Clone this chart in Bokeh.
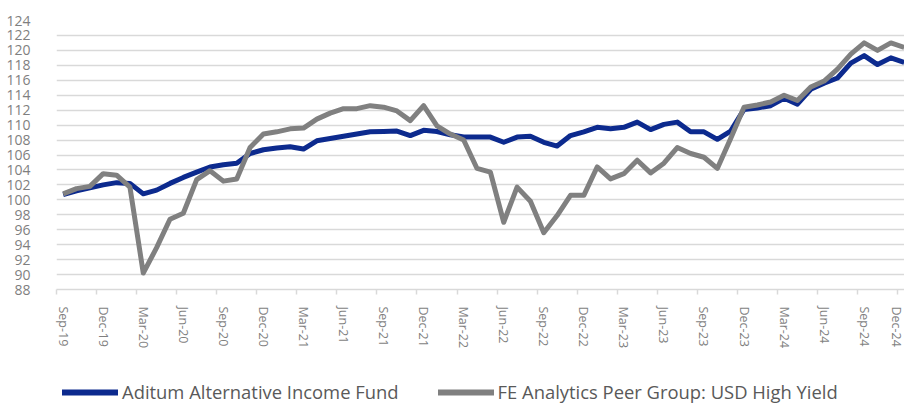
from bokeh.plotting import figure
from bokeh.models import FixedTicker, Legend, LegendItem, Range1d
from bokeh.layouts import column
from bokeh.embed import file_html
from bokeh.resources import INLINE

# ---- data (monthly index, Sep-19 .. Dec-24) ----
tick_labels = ["Sep-19", "Dec-19", "Mar-20", "Jun-20", "Sep-20", "Dec-20", "Mar-21",
               "Jun-21", "Sep-21", "Dec-21", "Mar-22", "Jun-22", "Sep-22", "Dec-22",
               "Mar-23", "Jun-23", "Sep-23", "Dec-23", "Mar-24", "Jun-24", "Sep-24", "Dec-24"]

fund = [100.7, 101.2, 101.6, 102.0, 102.3, 102.2, 100.8, 101.3, 102.2, 103.0,
        103.7, 104.4, 104.7, 104.9, 106.2, 106.7, 106.95, 107.1, 106.8, 107.9,
        108.2, 108.5, 108.8, 109.1, 109.15, 109.2, 108.6, 109.3, 109.15, 108.7,
        108.4, 108.4, 108.4, 107.7, 108.4, 108.5, 107.7, 107.2, 108.6, 109.1,
        109.7, 109.5, 109.7, 110.4, 109.4, 110.1, 110.4, 109.1, 109.1, 108.1,
        109.2, 112.1, 112.3, 112.6, 113.6, 112.8, 114.8, 115.6, 116.3, 118.3,
        119.3, 118.1, 119.0, 118.4]

peer = [100.8, 101.5, 101.8, 103.5, 103.3, 101.7, 90.2, 93.6, 97.4, 98.2,
        102.7, 103.9, 102.5, 102.8, 107.0, 108.8, 109.1, 109.5, 109.6, 110.8,
        111.6, 112.2, 112.2, 112.6, 112.4, 111.9, 110.6, 112.6, 109.9, 108.8,
        108.0, 104.2, 103.7, 97.0, 101.7, 99.8, 95.6, 97.9, 100.6, 100.6,
        104.4, 102.8, 103.5, 105.3, 103.6, 104.9, 107.0, 106.2, 105.7, 104.2,
        108.2, 112.4, 112.7, 113.1, 114.0, 113.3, 115.1, 115.9, 117.5, 119.5,
        121.0, 120.0, 121.0, 120.4]

series_names = ["Aditum Alternative Income Fund", "FE Analytics Peer Group: USD High Yield"]
y_ticks = list(range(88, 125, 2))

months = list(range(len(fund)))
label_pos = [3 * k for k in range(len(tick_labels))]
tick_mark_pos = [3 * k - 0.5 for k in range(len(tick_labels))]

GRID = "#d9d9d9"
LABEL = "#7f7f7f"
FONT = "Open Sans"
BLUE = "#0c2a8e"
GREY = "#808080"

p = figure(frame_width=848, frame_height=269, output_backend="svg", toolbar_location=None,
           x_range=Range1d(-0.5, -0.5 + 848 / 13.35), y_range=Range1d(88, 124),
           min_border_left=56, min_border_right=0, min_border_top=20, min_border_bottom=83)
p.outline_line_color = None
p.background_fill_color = "white"
p.border_fill_color = "white"
p.xgrid.visible = False

# y axis
p.yaxis.ticker = FixedTicker(ticks=y_ticks)
p.yaxis.axis_line_color = None
p.yaxis.major_tick_line_color = None
p.yaxis.minor_tick_line_color = None
p.yaxis.major_label_standoff = 20
p.yaxis.major_label_text_font = FONT
p.yaxis.major_label_text_font_size = "14px"
p.yaxis.major_label_text_color = LABEL
p.ygrid.ticker = FixedTicker(ticks=y_ticks)
p.ygrid.grid_line_color = GRID
p.ygrid.grid_line_width = 1.5

# x axis: labels at category centres, tick marks (minor) at category boundaries
p.xaxis.ticker = FixedTicker(ticks=label_pos, minor_ticks=tick_mark_pos)
p.xaxis.major_label_overrides = {pos: lab for pos, lab in zip(label_pos, tick_labels)}
p.xaxis.axis_line_color = GRID
p.xaxis.axis_line_width = 1.5
p.xaxis.major_tick_line_color = None
p.xaxis.major_tick_out = 0
p.xaxis.major_tick_in = 0
p.xaxis.minor_tick_line_color = GRID
p.xaxis.minor_tick_line_width = 1.5
p.xaxis.minor_tick_out = 5
p.xaxis.minor_tick_in = 0
p.xaxis.major_label_orientation = "vertical"
p.xaxis.major_label_standoff = 12
p.xaxis.major_label_text_font = FONT
p.xaxis.major_label_text_font_size = "12.5px"
p.xaxis.major_label_text_color = LABEL

p.line(months, fund, line_color=BLUE, line_width=5, line_join="round")
p.line(months, peer, line_color=GREY, line_width=5, line_join="round")

# legend strip below the chart (key lines sit outside the strip's visible range)
lg = figure(width=904, height=31, output_backend="svg", toolbar_location=None,
            x_range=Range1d(0, 1), y_range=Range1d(0, 1), min_border=0,
            x_axis_type=None, y_axis_type=None)
lg.outline_line_color = None
lg.xgrid.visible = False
lg.ygrid.visible = False
k1 = lg.line(months[:2], fund[:2], line_color=BLUE, line_width=6, line_cap="round")
k2 = lg.line(months[:2], peer[:2], line_color=GREY, line_width=6, line_cap="round")

legend = Legend(items=[LegendItem(label=series_names[0], renderers=[k1]),
                       LegendItem(label=series_names[1], renderers=[k2])],
                location=(6, -1), orientation="horizontal",
                glyph_width=56, glyph_height=20, label_height=20, label_standoff=4, spacing=39,
                padding=0, margin=0, border_line_color=None, background_fill_alpha=0,
                label_text_font=FONT, label_text_font_size="18.4px",
                label_text_color="#595959")
lg.add_layout(legend)

layout = column(p, lg, spacing=0)
open("out.html", "w").write(file_html(layout, INLINE))
